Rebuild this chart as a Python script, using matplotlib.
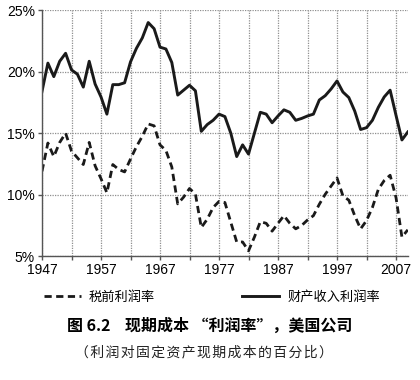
import matplotlib
matplotlib.use("Agg")
import matplotlib.pyplot as plt
import numpy as np

years = list(range(1947, 2010))

# 财产收入利润率 (solid)
property_income_rate = [
    18.4, 20.7, 19.6, 20.85, 21.5, 20.15, 19.8, 18.75, 20.85, 19.0,
    17.95, 16.55, 18.95, 18.95, 19.1, 20.8, 21.9, 22.75, 24.0, 23.5,
    22.0, 21.85, 20.75, 18.1, 18.5, 18.9, 18.45, 15.15, 15.7, 16.05,
    16.55, 16.35, 15.0, 13.1, 14.05, 13.3, 15.0, 16.7, 16.55, 15.85,
    16.4, 16.9, 16.7, 16.05, 16.2, 16.4, 16.55, 17.7, 18.05, 18.6,
    19.25, 18.35, 17.9, 16.8, 15.3, 15.45, 16.05, 17.1, 17.95, 18.5,
    16.45, 14.45, 15.1,
]

# 税前利润率 (dashed)
pretax_rate = [
    11.9, 14.2, 13.1, 14.25, 15.0, 13.55, 13.0, 12.45, 14.25, 12.35,
    11.3, 10.15, 12.45, 12.05, 11.85, 12.9, 13.9, 14.75, 15.75, 15.6,
    14.05, 13.6, 12.25, 9.25, 9.8, 10.5, 10.05, 7.33, 8.0, 8.95,
    9.45, 9.36, 7.75, 6.15, 6.15, 5.43, 6.55, 7.8, 7.67, 7.03,
    7.67, 8.29, 7.67, 7.22, 7.49, 7.94, 8.29, 9.22, 10.03, 10.7,
    11.36, 9.9, 9.55, 8.29, 7.22, 7.89, 8.96, 10.43, 11.15, 11.58,
    9.76, 6.55, 7.14,
]

xtick_labels = [1947, 1957, 1967, 1977, 1987, 1997, 2007]
ytick_values = [5, 10, 15, 20, 25]
legend_labels = ["税前利润率", "财产收入利润率"]
title_text = "图 6.2    现期成本 “利润率”，美国公司"
subtitle_text = "\u200a".join("（利润对固定资产现期成本的百分比）")

cjk = ["Noto Sans CJK SC", "DejaVu Sans"]

fig = plt.figure(figsize=(4.2, 3.8), dpi=100)
ax = fig.add_axes([0.1, 0.326, 0.871, 0.647])

l1, = ax.plot(years, pretax_rate, color="#1a1a1a", lw=2.0, ls=(0, (2.6, 1.6)))
l2, = ax.plot(years, property_income_rate, color="#1a1a1a", lw=2.1)

ax.set_xlim(1947, 2009)
ax.set_ylim(5, 25)
ax.set_xticks(list(range(1947, 2010, 5)))
ax.set_xticklabels([str(y) if y in xtick_labels else "" for y in range(1947, 2010, 5)],
                   fontsize=10, family="Liberation Sans")
ax.set_yticks(ytick_values)
ax.set_yticklabels([f"{v}%" for v in ytick_values], fontsize=10, family="Liberation Sans")
ax.tick_params(axis="both", direction="out", length=3, width=1, color="#555555", pad=2)
ax.grid(True, color="#8f8f8f", lw=0.9, ls=(0, (1, 1)))
ax.set_axisbelow(True)
for s in ["top", "right"]:
    ax.spines[s].set_visible(False)
for s in ["left", "bottom"]:
    ax.spines[s].set_color("#555555")
    ax.spines[s].set_linewidth(1.0)

fig.legend([l1, l2], legend_labels, loc="center", bbox_to_anchor=(0.505, 0.218),
           ncol=2, frameon=False, prop={"family": cjk, "size": 9.5},
           handlelength=2.8, columnspacing=6.6, handletextpad=0.6)

fig.text(0.5, 0.142, title_text, ha="center", va="center", fontsize=11.5,
         fontweight="bold", family=cjk)
fig.text(0.486, 0.074, subtitle_text, ha="center", va="center", fontsize=10,
         family=cjk, color="#222222")

fig.savefig("out.png", dpi=100)
